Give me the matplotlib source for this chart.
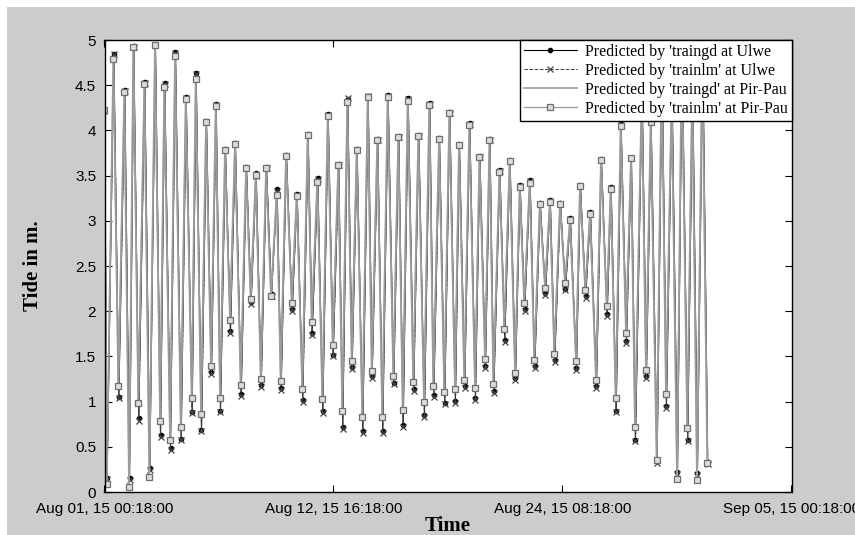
import numpy as np
import pandas as pd
import matplotlib
matplotlib.use("Agg")
import matplotlib.pyplot as plt
import matplotlib.dates as mdates
from matplotlib.patches import Rectangle

# hours after Aug 01 2015 00:18 of each high / low water point (start, L, H, L, H ...)
pirpau_hours = [
    0.0, 2.7, 10.8, 16.9, 24.2, 30.0, 35.2, 41.3, 48.7, 54.8,
    61.7, 67.9, 73.1, 80.1, 86.2, 93.2, 99.3, 106.6, 111.5, 118.0,
    124.1, 130.2, 136.0, 141.2, 147.3, 153.4, 159.5, 166.5, 173.0, 178.7,
    184.9, 191.0, 197.5, 203.6, 210.5, 215.4, 221.9, 228.9, 235.0, 241.8,
    248.4, 253.3, 260.2, 266.3, 272.9, 279.0, 285.8, 290.7, 296.8, 302.2,
    308.3, 315.2, 321.8, 326.7, 333.5, 339.6, 346.2, 353.1, 359.2, 364.6,
    370.7, 377.5, 383.7, 390.6, 397.1, 402.0, 409.0, 415.4, 421.6, 428.5,
    433.4, 439.9, 446.0, 453.0, 458.4, 465.2, 470.7, 475.4, 482.9, 488.8,
    495.3, 501.9, 507.6, 513.2, 519.8, 525.5, 532.2, 538.6, 544.5, 549.9,
    556.9, 563.0, 569.1, 576.5, 581.3, 587.8, 593.6, 600.9, 607.0, 614.0,
    618.9, 625.0, 631.1, 637.6, 643.7, 648.6, 656.8, 662.0, 667.8, 675.1,
    681.2, 686.5, 693.4, 700.0, 705.7, 712.5, 718.6, 724.4, 730.9, 737.0,
]

ulwe_hours = [
    0.0, 3.2, 11.4, 17.5, 24.8, 30.6, 35.8, 41.9, 49.3, 55.4,
    62.3, 68.5, 73.7, 80.7, 86.8, 93.8, 99.9, 107.2, 112.1, 118.6,
    124.7, 130.8, 136.6, 141.8, 147.9, 154.0, 160.1, 167.1, 173.6, 179.3,
    185.5, 191.6, 198.1, 204.2, 211.1, 216.0, 222.5, 229.5, 235.6, 242.4,
    249.0, 253.9, 260.8, 266.9, 273.5, 279.6, 286.4, 291.3, 297.4, 302.8,
    308.9, 315.8, 322.4, 327.3, 334.1, 340.2, 346.8, 353.7, 359.8, 365.2,
    371.3, 378.1, 384.3, 391.2, 397.7, 402.6, 409.6, 416.0, 422.2, 429.1,
    434.0, 440.5, 446.6, 453.6, 459.0, 465.8, 471.3, 476.0, 483.5, 489.4,
    495.9, 502.5, 508.2, 513.8, 520.4, 526.1, 532.8, 539.2, 545.1, 550.5,
    557.5, 563.6, 569.7, 577.1, 581.9, 588.4, 594.2, 601.5, 607.6, 614.6,
    619.5, 625.6, 631.7, 638.2, 644.3, 649.2, 657.4, 662.6, 668.4, 675.7,
    681.8, 687.1, 694.0, 700.6, 706.3, 713.1, 719.2, 725.0, 731.5, 737.6,
]

ulwe_traingd = [
    4.23, 0.16, 4.85, 1.05, 4.45, 0.15, 4.93, 0.82, 4.53, 0.26,
    4.95, 0.63, 4.52, 0.49, 4.87, 0.59, 4.37, 0.89, 4.64, 0.69,
    4.10, 1.33, 4.29, 0.90, 3.79, 1.78, 3.86, 1.08, 3.59, 2.10,
    3.53, 1.18, 3.59, 2.19, 3.35, 1.15, 3.73, 2.02, 3.30, 1.02,
    3.96, 1.76, 3.47, 0.90, 4.18, 1.52, 3.63, 0.72, 4.35, 1.38,
    3.79, 0.67, 4.38, 1.28, 3.90, 0.67, 4.39, 1.21, 3.94, 0.74,
    4.36, 1.14, 3.95, 0.85, 4.30, 1.07, 3.92, 0.99, 4.20, 1.01,
    3.85, 1.17, 4.08, 1.04, 3.72, 1.39, 3.90, 1.12, 3.56, 1.68,
    3.67, 1.26, 3.40, 2.02, 3.45, 1.39, 3.20, 2.20, 3.23, 1.46,
    3.20, 2.25, 3.03, 1.37, 3.40, 2.17, 3.10, 1.17, 3.68, 1.97,
    3.37, 0.90, 4.07, 1.67, 3.70, 0.58, 4.43, 1.28, 4.11, 0.34,
    4.74, 0.95, 4.43, 0.22, 4.88, 0.58, 4.53, 0.21, 4.88, 0.33,
]

ulwe_trainlm = [
    4.22, 0.14, 4.84, 1.04, 4.44, 0.13, 4.92, 0.79, 4.52, 0.24,
    4.94, 0.61, 4.51, 0.47, 4.86, 0.57, 4.36, 0.87, 4.62, 0.67,
    4.09, 1.31, 4.28, 0.88, 3.78, 1.76, 3.85, 1.06, 3.58, 2.08,
    3.50, 1.16, 3.58, 2.17, 3.33, 1.13, 3.72, 2.00, 3.29, 1.00,
    3.95, 1.74, 3.46, 0.87, 4.17, 1.50, 3.62, 0.70, 4.36, 1.36,
    3.78, 0.65, 4.38, 1.26, 3.89, 0.65, 4.38, 1.19, 3.93, 0.72,
    4.35, 1.12, 3.94, 0.83, 4.29, 1.05, 3.91, 0.97, 4.19, 0.99,
    3.84, 1.15, 4.07, 1.02, 3.71, 1.37, 3.89, 1.10, 3.55, 1.66,
    3.66, 1.24, 3.39, 2.00, 3.44, 1.37, 3.19, 2.18, 3.22, 1.44,
    3.19, 2.23, 3.02, 1.35, 3.39, 2.15, 3.09, 1.15, 3.67, 1.95,
    3.36, 0.88, 4.06, 1.65, 3.69, 0.56, 4.42, 1.26, 4.10, 0.32,
    4.73, 0.93, 4.42, 0.20, 4.87, 0.56, 4.52, 0.19, 4.87, 0.31,
]

pirpau_traingd = [
    4.24, 0.08, 4.80, 1.16, 4.42, 0.07, 4.91, 0.99, 4.50, 0.18,
    4.93, 0.80, 4.49, 0.58, 4.81, 0.73, 4.34, 1.05, 4.58, 0.87,
    4.08, 1.40, 4.26, 1.05, 3.77, 1.91, 3.84, 1.19, 3.57, 2.14,
    3.50, 1.26, 3.57, 2.18, 3.30, 1.24, 3.71, 2.10, 3.28, 1.15,
    3.94, 1.89, 3.44, 1.04, 4.15, 1.64, 3.61, 0.91, 4.30, 1.46,
    3.77, 0.84, 4.36, 1.35, 3.88, 0.84, 4.36, 1.29, 3.92, 0.92,
    4.32, 1.23, 3.93, 1.01, 4.27, 1.18, 3.89, 1.12, 4.18, 1.15,
    3.83, 1.25, 4.05, 1.16, 3.70, 1.48, 3.88, 1.21, 3.53, 1.81,
    3.65, 1.33, 3.36, 2.10, 3.41, 1.47, 3.18, 2.27, 3.20, 1.54,
    3.18, 2.32, 3.00, 1.46, 3.37, 2.24, 3.07, 1.25, 3.66, 2.07,
    3.34, 1.05, 4.04, 1.77, 3.68, 0.73, 4.39, 1.36, 4.08, 0.36,
    4.69, 1.09, 4.39, 0.15, 4.84, 0.72, 4.49, 0.14, 4.84, 0.33,
]

pirpau_trainlm = [
    4.23, 0.09, 4.79, 1.17, 4.43, 0.06, 4.92, 0.98, 4.51, 0.17,
    4.94, 0.79, 4.48, 0.57, 4.82, 0.72, 4.35, 1.04, 4.57, 0.86,
    4.09, 1.39, 4.27, 1.04, 3.78, 1.90, 3.85, 1.18, 3.58, 2.13,
    3.51, 1.25, 3.58, 2.17, 3.29, 1.23, 3.72, 2.09, 3.27, 1.14,
    3.95, 1.88, 3.43, 1.03, 4.16, 1.63, 3.62, 0.90, 4.31, 1.45,
    3.78, 0.83, 4.37, 1.34, 3.89, 0.83, 4.37, 1.28, 3.93, 0.91,
    4.33, 1.22, 3.94, 1.00, 4.28, 1.17, 3.90, 1.11, 4.19, 1.14,
    3.84, 1.24, 4.06, 1.15, 3.71, 1.47, 3.89, 1.20, 3.54, 1.80,
    3.66, 1.32, 3.37, 2.09, 3.42, 1.46, 3.19, 2.26, 3.21, 1.53,
    3.19, 2.31, 3.01, 1.45, 3.38, 2.23, 3.08, 1.24, 3.67, 2.06,
    3.35, 1.04, 4.05, 1.76, 3.69, 0.72, 4.40, 1.35, 4.09, 0.35,
    4.70, 1.08, 4.40, 0.14, 4.85, 0.71, 4.50, 0.13, 4.85, 0.32,
]

labels = [
    "Predicted by 'traingd at Ulwe",
    "Predicted by 'trainlm' at Ulwe",
    "Predicted by 'traingd' at Pir-Pau",
    "Predicted by 'trainlm' at Pir-Pau",
]

y_ticks = [0, 0.5, 1, 1.5, 2, 2.5, 3, 3.5, 4, 4.5, 5]
y_tick_labels = ["0", "0.5", "1", "1.5", "2", "2.5", "3", "3.5", "4", "4.5", "5"]

start = pd.Timestamp("2015-08-01 00:18:00")
end = pd.Timestamp("2015-09-05 00:18:00")
t_ulwe = start + pd.to_timedelta(ulwe_hours, unit="h")
t_pp = start + pd.to_timedelta(pirpau_hours, unit="h")

fig = plt.figure(figsize=(8.55, 5.35), dpi=100)
fig.patch.set_facecolor("white")
fig.add_artist(Rectangle((7 / 855, 0), 1, 1 - 7 / 535, transform=fig.transFigure,
                         facecolor="#cccccc", edgecolor="none", zorder=-1))

ax = fig.add_axes([104.5 / 855, 43 / 535, 687 / 855, 452 / 535])
ax.set_facecolor("white")

ax.plot(t_ulwe, ulwe_traingd, color="black", lw=0.8, marker=".", ms=6, label=labels[0])
ax.plot(t_ulwe, ulwe_trainlm, color="#444444", lw=0.7, ls="--", marker="x", ms=4,
        mew=0.9, label=labels[1])
ax.plot(t_pp, pirpau_traingd, color="#a4a4a4", lw=1.3, label=labels[2])
ax.plot(t_pp, pirpau_trainlm, color="#9a9a9a", lw=0.9, marker="s", ms=4.5,
        mfc="#dcdcdc", mec="#6e6e6e", mew=0.9, label=labels[3])

ax.set_xlim(start, end)
ax.set_ylim(0, 5)
ax.set_xticks([start + (end - start) * k / 3 for k in range(4)])
ax.xaxis.set_major_formatter(mdates.DateFormatter("%b %d, %y %H:%M:%S"))
ax.set_yticks(y_ticks)
ax.set_yticklabels(y_tick_labels)

ax.tick_params(direction="in", length=5, width=0.8, top=True, right=True,
               labelsize=11)
ax.tick_params(axis="x", pad=7)
ax.tick_params(axis="y", pad=6)
for lab in ax.get_xticklabels() + ax.get_yticklabels():
    lab.set_family("Liberation Sans")
for sp in ax.spines.values():
    sp.set_linewidth(1.0)

ax.set_xlabel("Time", family="Liberation Serif", fontsize=15, fontweight="bold", labelpad=0)
ax.set_ylabel("Tide in m.", family="Liberation Serif", fontsize=15, fontweight="bold")
ax.yaxis.set_label_coords(-0.089, 0.5)

leg = ax.legend(loc="upper right", borderaxespad=0, fancybox=False, framealpha=1,
                edgecolor="black", prop={"family": "Liberation Serif", "size": 11.5},
                handlelength=3.3, handletextpad=0.5, labelspacing=0.18, borderpad=0.25)
leg.get_frame().set_linewidth(1.0)

fig.savefig("out.png", dpi=100)
